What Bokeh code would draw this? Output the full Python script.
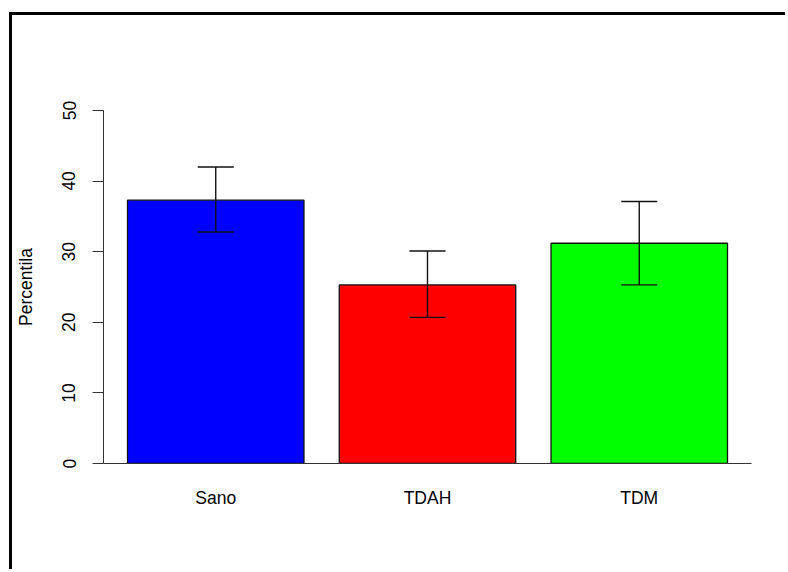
from bokeh.plotting import figure
from bokeh.models import (ColumnDataSource, FactorRange, Range1d, FixedTicker,
                          Whisker, TeeHead)
from bokeh.embed import file_html
from bokeh.resources import INLINE

# ---- data ----
categories = ["Sano", "TDAH", "TDM"]
means = [37.3, 25.3, 31.2]
upper = [42.0, 30.1, 37.1]
lower = [32.8, 20.7, 25.3]
colors = ["#0000FF", "#FF0000", "#00FF00"]
y_ticks = [0, 10, 20, 30, 40, 50]

FONT = "Liberation Sans"
FS = "17.5px"

src = ColumnDataSource(dict(cat=categories, mean=means, up=upper, lo=lower, col=colors))

p = figure(width=776, height=557, output_backend="svg", toolbar_location=None,
           x_range=FactorRange(factors=categories, range_padding=0.03,
                               range_padding_units="absolute"),
           y_range=Range1d(0, 50),
           min_border_left=91, min_border_right=37, min_border_top=95,
           min_border_bottom=109)

# outer frame of the figure (left and top edges visible in the reference)
p.styles = {"border-left": "3px solid black", "border-top": "3px solid black",
            "margin-left": "9px", "margin-top": "12px"}

p.vbar(x="cat", top="mean", bottom=0, width=1/1.2, source=src,
       fill_color="col", line_color="#111111", line_width=1.3)

w = Whisker(base="cat", upper="up", lower="lo", source=src, level="overlay",
            line_color="#111111", line_width=1.4,
            upper_head=TeeHead(size=36, line_color="#111111", line_width=1.4),
            lower_head=TeeHead(size=36, line_color="#111111", line_width=1.4))
p.add_layout(w)

p.grid.visible = False
p.outline_line_color = None
p.background_fill_color = "white"
p.border_fill_color = "white"

ya = p.yaxis[0]
ya.ticker = FixedTicker(ticks=y_ticks)
ya.major_tick_out = 11
ya.major_tick_in = 0
ya.minor_tick_line_color = None
ya.major_label_orientation = "vertical"
ya.major_label_standoff = 17
ya.major_label_text_font = FONT
ya.major_label_text_font_size = FS
ya.major_label_text_color = "black"
ya.axis_line_color = "#333333"
ya.major_tick_line_color = "#333333"
ya.axis_label = "Percentila"
ya.axis_label_text_font = FONT
ya.axis_label_text_font_size = FS
ya.axis_label_text_font_style = "normal"
ya.axis_label_text_color = "black"
ya.axis_label_standoff = 24

xa = p.xaxis[0]
xa.major_tick_line_color = None
xa.minor_tick_line_color = None
xa.major_tick_out = 0
xa.major_label_standoff = 24
xa.major_label_text_font = FONT
xa.major_label_text_font_size = FS
xa.major_label_text_color = "black"
xa.axis_line_color = "#333333"

open("out.html", "w").write(file_html(p, INLINE))
